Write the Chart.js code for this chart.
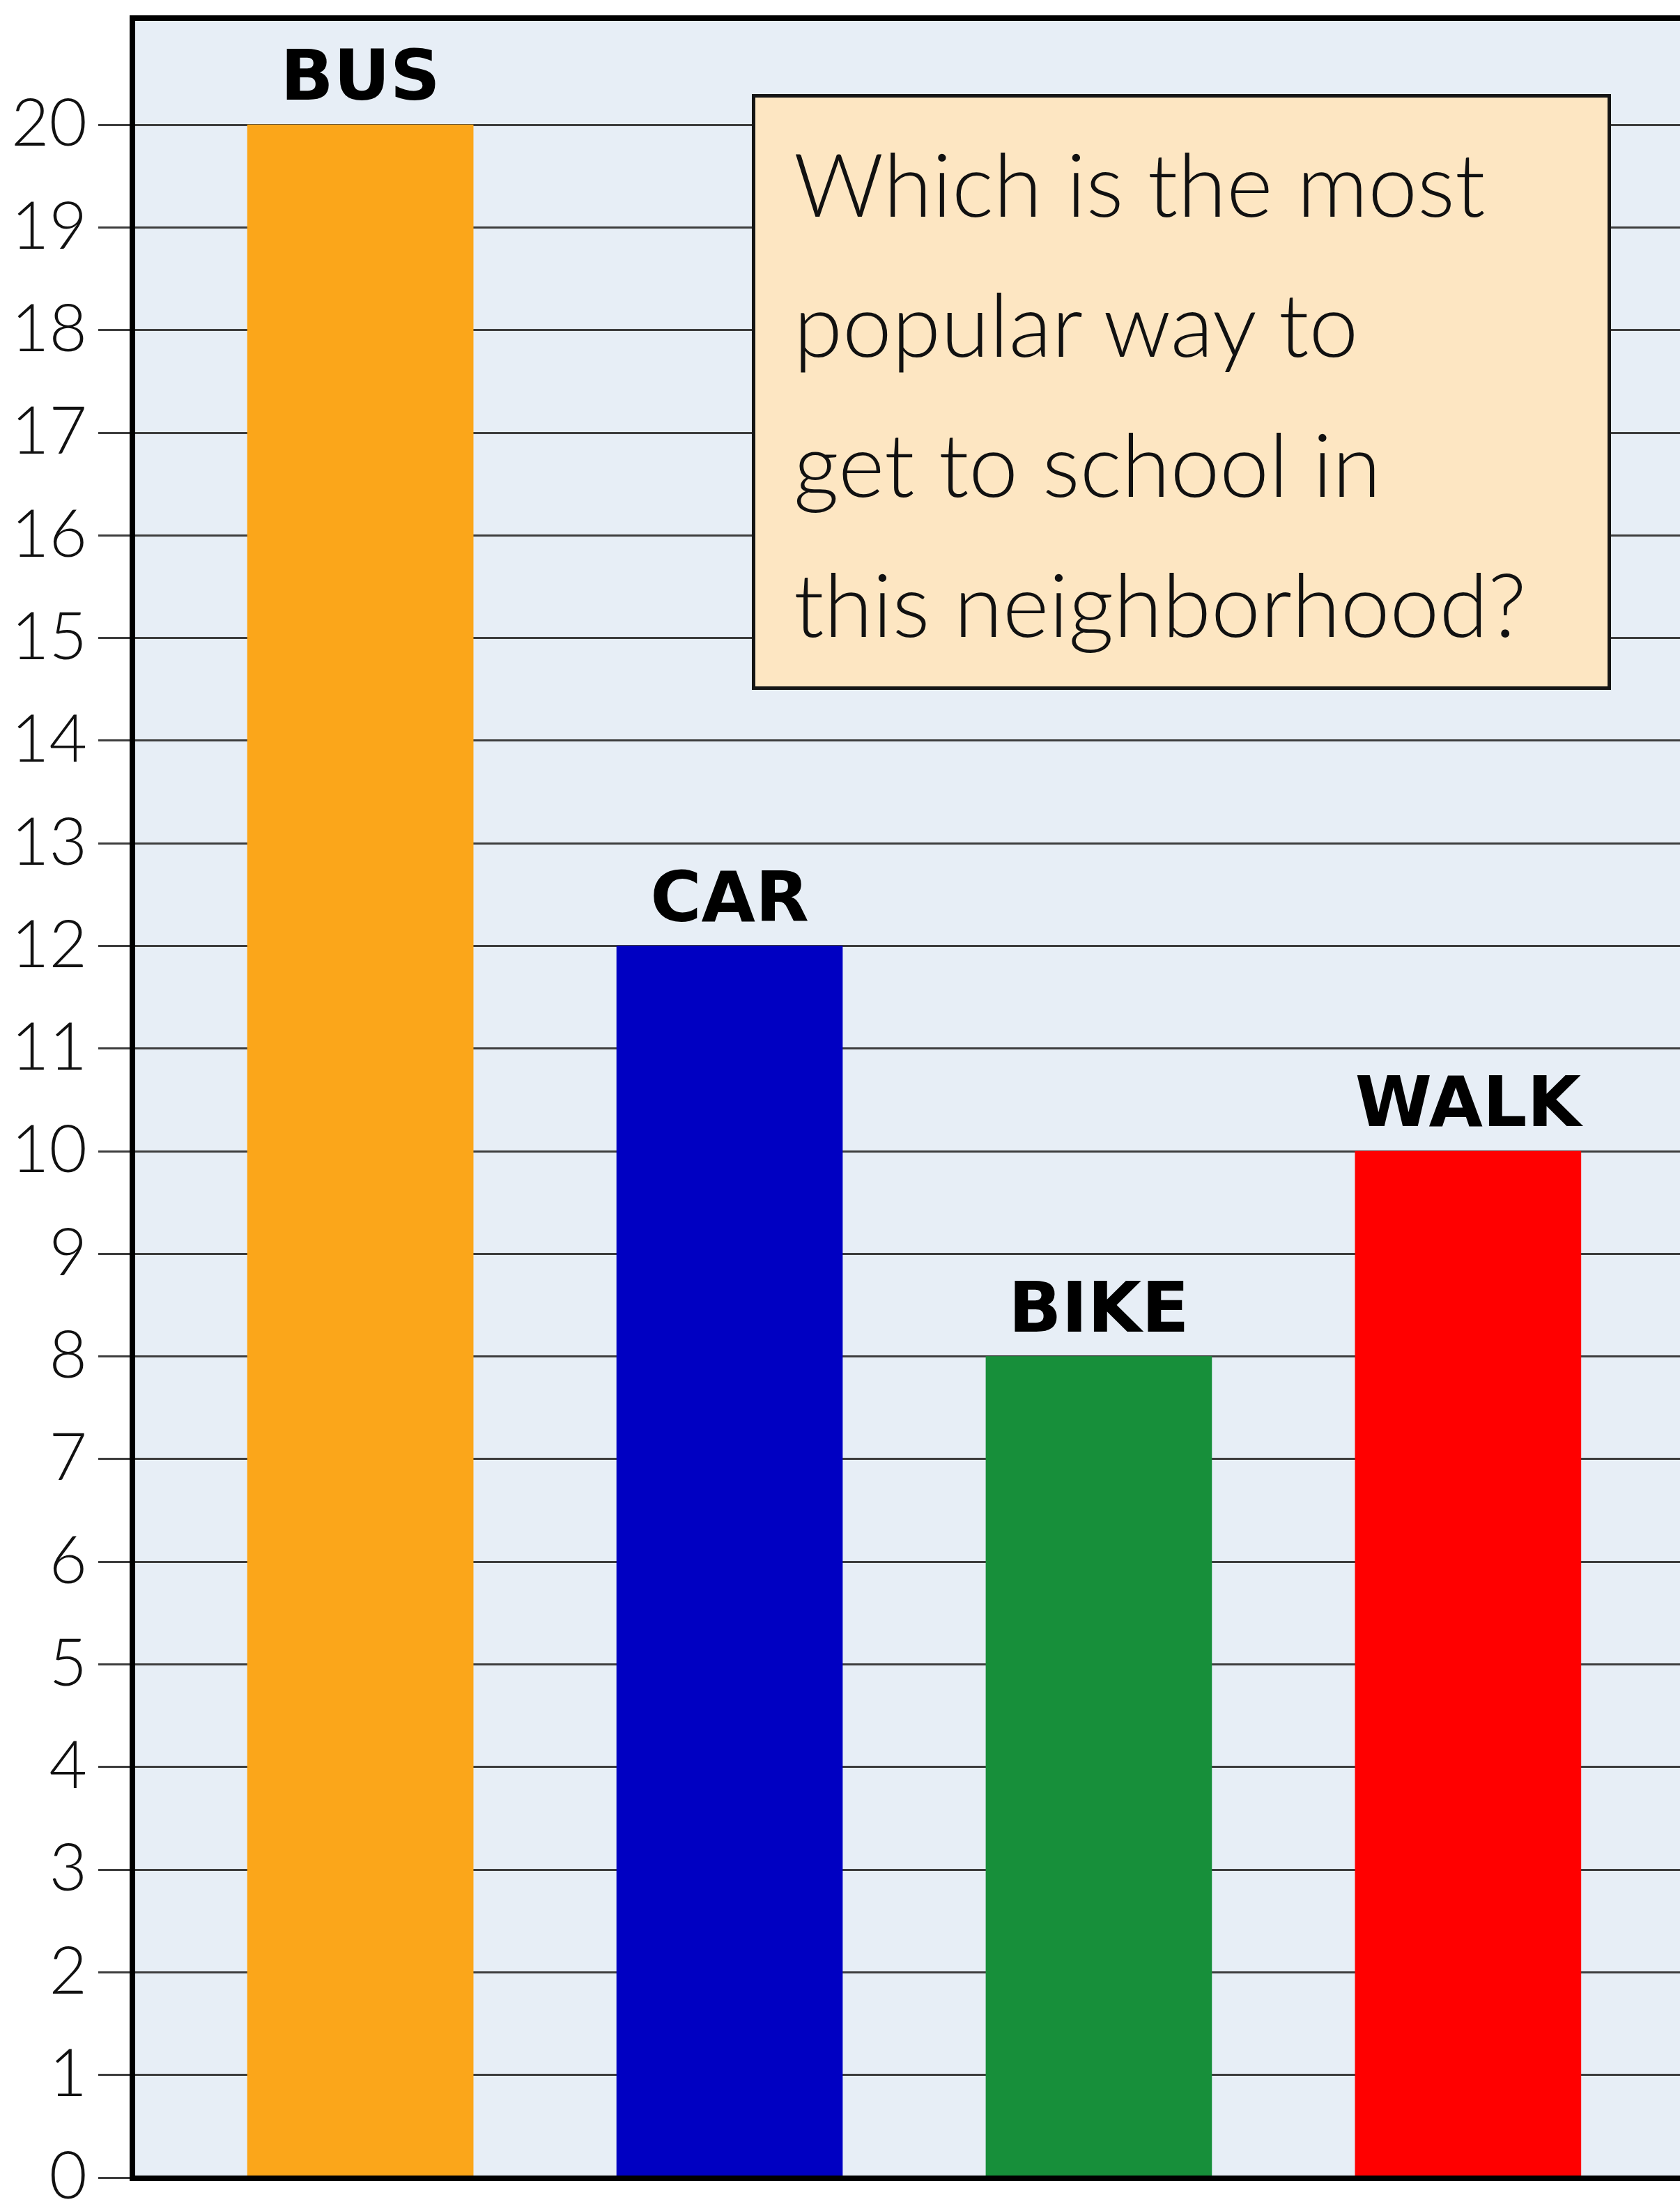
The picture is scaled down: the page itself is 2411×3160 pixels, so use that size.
<!DOCTYPE html>
<html>
<head>
<meta charset="utf-8">
<script src="https://cdn.jsdelivr.net/npm/chart.js@4/dist/chart.umd.min.js"></script>
<style>
  html, body { margin: 0; padding: 0; background: #ffffff; }
  #wrap { position: relative; width: 2411px; height: 3160px; overflow: hidden; }
  #c { position: absolute; left: 0; top: 0; }
  #question {
    position: absolute; left: 1079px; top: 135px; width: 1233px; height: 855px;
    box-sizing: border-box; border: 5px solid #151515; background: #fde6c2;
    padding: 22px 0 0 55px;
    font-family: "Lato", "Open Sans", sans-serif; font-weight: 300; font-size: 127px;
    line-height: 201px; color: #111; white-space: nowrap;
  }
</style>
</head>
<body>
<div id="wrap">
  <canvas id="c" width="2411" height="3160"></canvas>
  <div id="question"></div>
</div>
<script>
// ---- data ----
const categories = ['BUS', 'CAR', 'BIKE', 'WALK'];
const students = [20, 12, 8, 10];
const barColors = ['#fba61a', '#0000c2', '#178f3a', '#ff0000'];
const yTickValues = [0,1,2,3,4,5,6,7,8,9,10,11,12,13,14,15,16,17,18,19,20];
const yTickLabels = ['0','1','2','3','4','5','6','7','8','9','10','11','12','13','14','15','16','17','18','19','20'];
const questionLines = ['Which is the most', 'popular way to', 'get to school in', 'this neighborhood?'];

document.getElementById('question').innerHTML = questionLines.map(l => '<div>' + l + '</div>').join('');

const framePlugin = {
  id: 'frame',
  beforeDraw(chart) {
    const {ctx, chartArea: a} = chart;
    ctx.save();
    ctx.fillStyle = '#e7eef6';
    ctx.fillRect(a.left, a.top, a.right - a.left, a.bottom - a.top);
    ctx.restore();
  },
  afterDatasetsDraw(chart) {
    const {ctx, chartArea: a} = chart;
    ctx.save();
    ctx.strokeStyle = '#000';
    ctx.lineWidth = 8;
    // bottom axis
    ctx.beginPath(); ctx.moveTo(a.left, a.bottom + 1); ctx.lineTo(a.right, a.bottom + 1); ctx.stroke();
    // top border
    ctx.beginPath(); ctx.moveTo(a.left, a.top); ctx.lineTo(a.right, a.top); ctx.stroke();
    // left border
    ctx.beginPath(); ctx.moveTo(a.left + 3, a.top - 4); ctx.lineTo(a.left + 3, a.bottom + 5); ctx.stroke();
    // bar labels
    const meta = chart.getDatasetMeta(0);
    ctx.fillStyle = '#000';
    ctx.font = 'bold 100px "DejaVu Sans", sans-serif';
    ctx.textAlign = 'center';
    ctx.textBaseline = 'alphabetic';
    meta.data.forEach((bar, i) => {
      ctx.fillText(categories[i], bar.x, bar.y - 36);
    });
    ctx.restore();
  }
};

new Chart(document.getElementById('c'), {
  type: 'bar',
  data: {
    datasets: [{
      label: 'Students',
      data: students.map((v, i) => ({x: i, y: v})),
      backgroundColor: barColors,
      borderWidth: 0,
      barThickness: 324
    }]
  },
  options: {
    responsive: false,
    devicePixelRatio: 1,
    animation: false,
    layout: { padding: { top: 26, bottom: 35, left: 0, right: 0 } },
    plugins: { legend: { display: false }, tooltip: { enabled: false }, title: { display: false } },
    scales: {
      x: {
        type: 'linear',
        display: false,
        offset: false,
        min: -0.623,
        max: 3.574,
        grid: { display: false }
      },
      y: {
        type: 'linear',
        min: 0,
        max: 21.04,
        afterBuildTicks(scale) {
          scale.ticks = yTickValues.map(v => ({ value: v }));
        },
        afterFit(scale) {
          scale.width = 187;
          scale.paddingTop = 0;
          scale.paddingBottom = 0;
        },
        border: { display: false },
        grid: {
          color: '#3d3d3d',
          lineWidth: 3,
          tickLength: 46,
          drawTicks: true
        },
        ticks: {
          padding: 16,
          color: '#111',
          font: { family: 'Lato', weight: 300, size: 94 },
          callback: (value) => yTickLabels[yTickValues.indexOf(value)]
        }
      }
    }
  },
  plugins: [framePlugin]
});
</script>
</body>
</html>
